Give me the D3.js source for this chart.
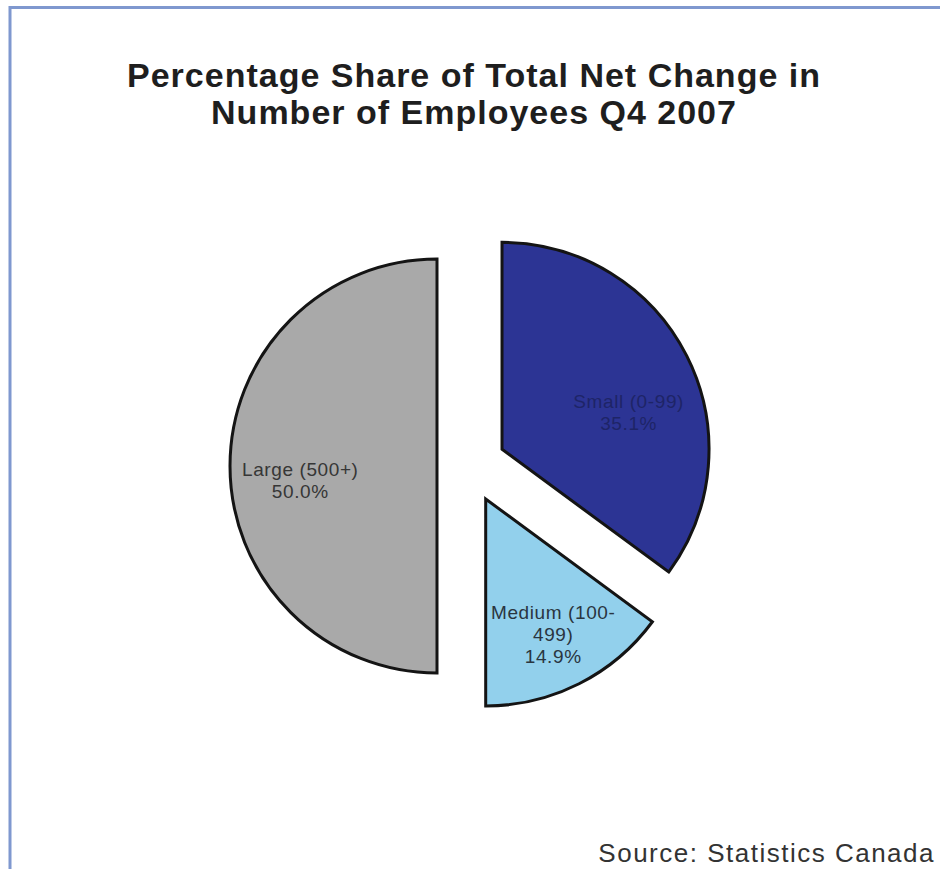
<!DOCTYPE html>
<html>
<head>
<meta charset="utf-8">
<script src="https://cdn.jsdelivr.net/npm/d3@7"></script>
<style>
  html, body { margin: 0; padding: 0; background: #fff; }
  svg { display: block; }
  text { font-family: "Liberation Sans", Arial, sans-serif; }
</style>
</head>
<body>
<svg id="chart" width="940" height="869"></svg>
<script>
// Firm-size categories and their share of the net change in employees
const categories = ["Small (0-99)", "Medium (100-499)", "Large (500+)"];
const labelLines = [["Small (0-99)"], ["Medium (100-", "499)"], ["Large (500+)"]];
const shares = [35.1, 14.9, 50.0];

const titleLines = ["Percentage Share of Total Net Change in", "Number of Employees Q4 2007"];
const sourceText = "Source: Statistics Canada";

// styling and layout per slice
const fills = ["#2c3494", "#92d0ec", "#a9a9a9"];
const labelColors = ["#1e2467", "#2a3540", "#363636"];
const explode = [37, 37, 32];
const labelNudge = [[1, 28], [4, 11], [4, 16]];

const W = 940, H = 869;
const svg = d3.select("#chart");

// frame edges
svg.append("rect").attr("x", 0).attr("y", 0).attr("width", W).attr("height", H).attr("fill", "#fff");
svg.append("line").attr("x1", 10).attr("x2", 10).attr("y1", 6).attr("y2", H)
  .attr("stroke", "#7f98cf").attr("stroke-width", 3);
svg.append("line").attr("x1", 9).attr("x2", W).attr("y1", 7.5).attr("y2", 7.5)
  .attr("stroke", "#7f98cf").attr("stroke-width", 3);

// title
svg.append("text")
  .attr("text-anchor", "middle")
  .attr("font-size", 34).attr("font-weight", "bold").attr("fill", "#1e1e1e")
  .attr("letter-spacing", 1)
  .selectAll("tspan").data(titleLines).join("tspan")
  .attr("x", 474).attr("y", (d, i) => 87 + i * 37)
  .text(d => d);

// pie
const cx = 469, cy = 466, R = 207;
const pie = d3.pie().sort(null).value(d => d)(shares);
const arc = d3.arc().innerRadius(0).outerRadius(R);
const labelArc = d3.arc().innerRadius(R * 0.68).outerRadius(R * 0.68);

const g = svg.append("g").attr("transform", `translate(${cx},${cy})`);
const slices = g.selectAll("g.slice").data(pie).join("g")
  .attr("class", "slice")
  .attr("transform", (d, i) => {
    const a = (d.startAngle + d.endAngle) / 2;
    return `translate(${Math.sin(a) * explode[i]},${-Math.cos(a) * explode[i]})`;
  });

slices.append("path")
  .attr("d", arc)
  .attr("fill", (d, i) => fills[i])
  .attr("stroke", "#141414")
  .attr("stroke-width", 3)
  .attr("stroke-linejoin", "miter");

slices.each(function (d, i) {
  const [cxL, cyL] = labelArc.centroid(d);
  const lx = cxL + labelNudge[i][0], ly = cyL + labelNudge[i][1];
  const lines = labelLines[i].concat([shares[i].toFixed(1) + "%"]);
  const t = d3.select(this).append("text")
    .attr("text-anchor", "middle")
    .attr("font-size", 19)
    .attr("letter-spacing", 0.6)
    .attr("fill", labelColors[i]);
  const lh = 22;
  const y0 = ly - (lines.length - 1) * lh / 2 + 5;
  lines.forEach((s, k) => {
    t.append("tspan").attr("x", lx).attr("y", y0 + k * lh).text(s);
  });
});

// source note
svg.append("text")
  .attr("x", 935).attr("y", 862)
  .attr("text-anchor", "end")
  .attr("font-size", 26).attr("fill", "#333")
  .attr("letter-spacing", 1.5)
  .text(sourceText);
</script>
</body>
</html>
